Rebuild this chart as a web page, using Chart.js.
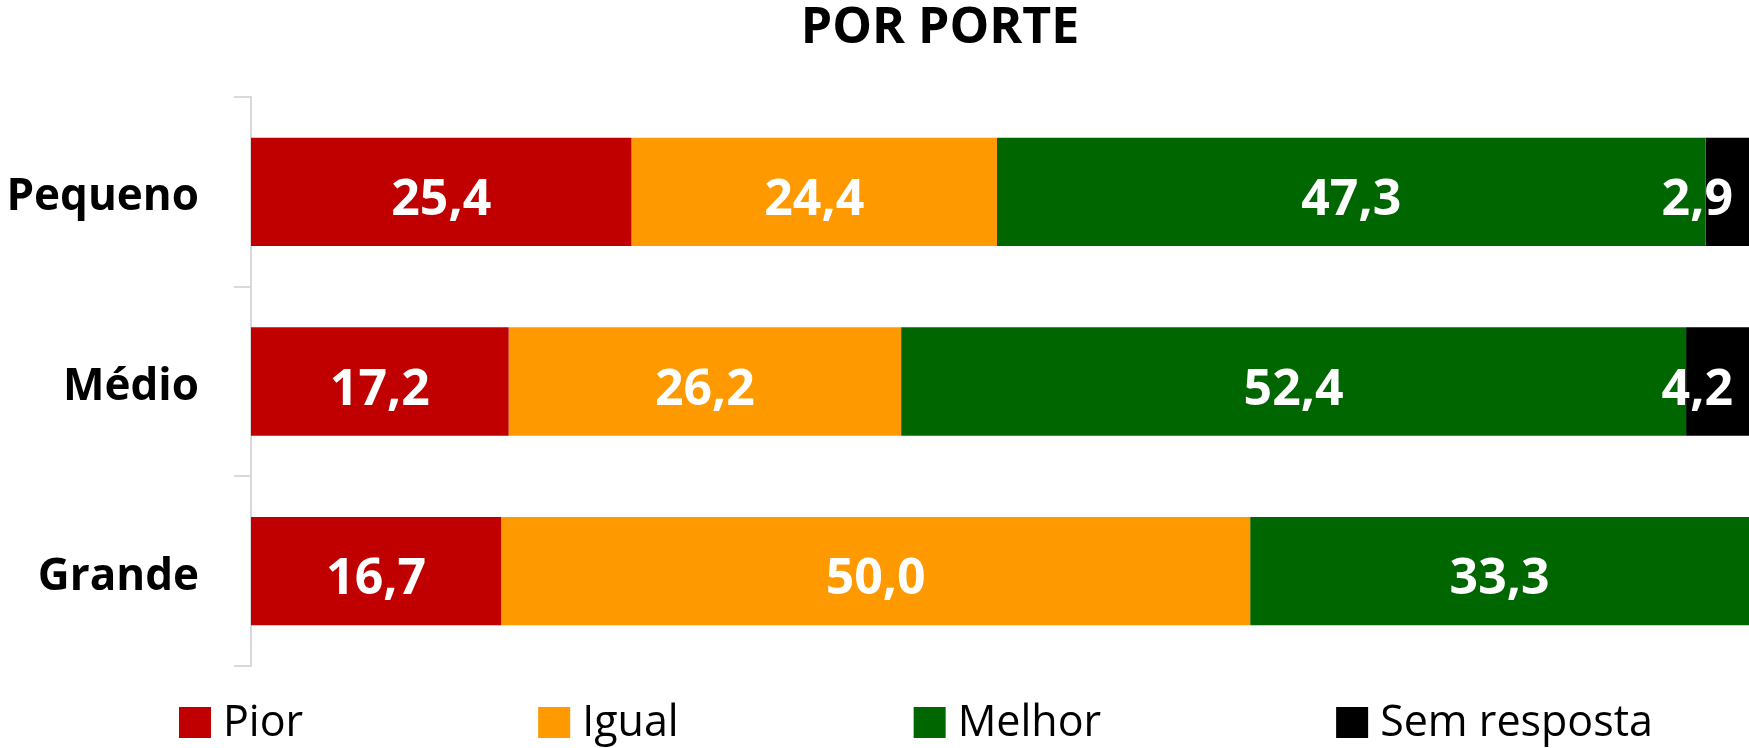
<!DOCTYPE html>
<html>
<head>
<meta charset="utf-8">
<script src="https://cdn.jsdelivr.net/npm/chart.js@4.4.0/dist/chart.umd.min.js"></script>
<style>
  html, body { margin: 0; padding: 0; background: #ffffff; }
  #wrap { width: 1749px; height: 748px; position: relative; }
</style>
</head>
<body>
<div id="wrap"><canvas id="c" width="1749" height="748"></canvas></div>
<script>
// ---- data ----
const titleText = 'POR PORTE';
const categories = ['Pequeno', 'Médio', 'Grande'];
const seriesNames = ['Pior', 'Igual', 'Melhor', 'Sem resposta'];
const pior = [25.4, 17.2, 16.7];
const igual = [24.4, 26.2, 50.0];
const melhor = [47.3, 52.4, 33.3];
const semResposta = [2.9, 4.2, 0];
const xMin = 0;
const xMax = 100;

// ---- styles ----
const seriesColors = ['#C00000', '#FF9900', '#006600', '#000000'];
const FONT = "'Open Sans', 'DejaVu Sans', sans-serif";

const seriesValues = [pior, igual, melhor, semResposta];

const customDraw = {
  id: 'customDraw',
  afterDatasetsDraw(chart) {
    const ctx = chart.ctx, area = chart.chartArea;
    ctx.save();
    ctx.font = 'bold 50px ' + FONT;
    ctx.fillStyle = '#ffffff';
    ctx.textAlign = 'center';
    ctx.textBaseline = 'alphabetic';
    chart.data.datasets.forEach((ds, di) => {
      const meta = chart.getDatasetMeta(di);
      meta.data.forEach((bar, i) => {
        const v = ds.data[i];
        if (!v) return;
        const txt = v.toFixed(1).replace('.', ',');
        const w = ctx.measureText(txt).width;
        let x = (bar.x + bar.base) / 2;
        if (x + w / 2 > area.right - 16) x = area.right - 16 - w / 2;
        ctx.fillText(txt, x, bar.y + 23);
      });
    });
    ctx.restore();
  },
  afterDraw(chart) {
    const ctx = chart.ctx;
    ctx.save();
    // title
    ctx.font = 'bold 50px ' + FONT;
    ctx.fillStyle = '#000000';
    ctx.textAlign = 'center';
    ctx.textBaseline = 'alphabetic';
    ctx.fillText(titleText, 940, 43);
    // legend
    ctx.font = '43px ' + FONT;
    ctx.textAlign = 'left';
    let x = 179;
    chart.data.datasets.forEach(ds => {
      ctx.fillStyle = ds.backgroundColor;
      ctx.fillRect(x, 707, 32, 31);
      ctx.fillStyle = '#000000';
      ctx.fillText(ds.label, x + 44, 736);
      x += 44 + ctx.measureText(ds.label).width + 235;
    });
    ctx.restore();
  }
};

new Chart(document.getElementById('c'), {
  type: 'bar',
  data: {
    labels: categories,
    datasets: seriesNames.map((name, k) => ({
      label: name,
      data: seriesValues[k],
      backgroundColor: seriesColors[k],
      borderWidth: 0,
      categoryPercentage: 0.571,
      barPercentage: 1.0
    }))
  },
  options: {
    indexAxis: 'y',
    responsive: false,
    devicePixelRatio: 1,
    animation: false,
    layout: { padding: { top: 97, bottom: 82, left: 0, right: 0 } },
    plugins: {
      legend: { display: false },
      title: { display: false },
      tooltip: { enabled: false }
    },
    scales: {
      x: { stacked: true, min: xMin, max: xMax, display: false },
      y: {
        stacked: true,
        grid: { offset: true, drawOnChartArea: false, drawTicks: true, tickLength: 17, color: '#d9d9d9', lineWidth: 2 },
        border: { display: true, color: '#d9d9d9', width: 2 },
        ticks: { color: '#000000', padding: 35, labelOffset: 6, font: { family: FONT, size: 44, weight: 'bold' } },
        afterFit(scale) { scale.width = 251; }
      }
    }
  },
  plugins: [customDraw]
});
</script>
</body>
</html>
